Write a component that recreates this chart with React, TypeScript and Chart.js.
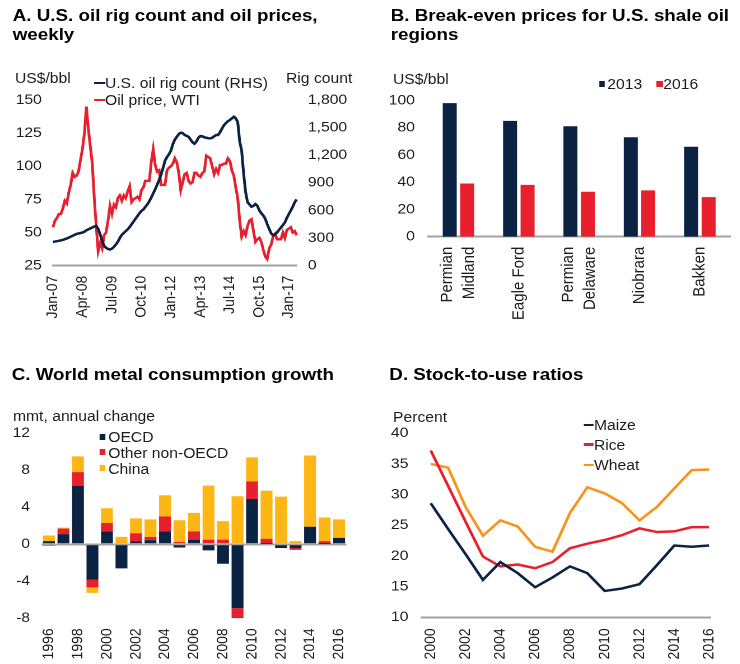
import React, { useEffect, useRef } from "react";
import { Chart, registerables } from "chart.js";

Chart.register(...registerables);

// ---------- general look ----------
const SX = 1.12; // horizontal stretch of the reference picture
const DW = 740 / SX;
const FONT = '"Liberation Sans", Arial, Helvetica, sans-serif';
const NAVY = "#0B2343";
const RED = "#E8202E";
const GOLD = "#FDB614";
const ORANGE = "#F7941D";
const AXIS = "#A3A3A3";
const TXT = "#1c1c1c";

Chart.defaults.font.family = FONT;
Chart.defaults.color = TXT;

// ---------- Panel A data (monthly, Jan-07 .. May-17) ----------
const aMonthNames = ["Jan", "Feb", "Mar", "Apr", "May", "Jun", "Jul", "Aug", "Sep", "Oct", "Nov", "Dec"];
const aYears = ["07", "08", "09", "10", "11", "12", "13", "14", "15", "16", "17"];
const aMonths: string[] = [];
aYears.forEach((y) => aMonthNames.forEach((m) => aMonths.push(`${m}-${y}`)));
aMonths.length = 125;
const aTickEvery = 15;
const aSeriesNames = ["U.S. oil rig count (RHS)", "Oil price, WTI"];
const aLeftTitle = "US$/bbl";
const aRightTitle = "Rig count";

const oilPrice = [
  54, 59, 61, 64, 64, 68, 74, 72, 80, 86, 95, 92,
  93, 96, 105, 113, 125, 145, 128, 115, 102, 76, 55, 36,
  42, 38, 48, 50, 59, 70, 64, 71, 69, 76, 78, 74,
  78, 76, 81, 85, 73, 75, 76, 77, 75, 82, 84, 89,
  89, 89, 103, 113, 101, 96, 97, 86, 86, 86, 97, 99,
  100, 102, 106, 103, 95, 82, 88, 94, 95, 89, 87, 88,
  95, 95, 93, 92, 95, 96, 108, 107, 106, 100, 94, 98,
  95, 101, 101, 102, 102, 106, 104, 97, 93, 84, 76, 59,
  47, 51, 48, 55, 59, 60, 51, 43, 45, 46, 43, 37,
  32, 30, 38, 41, 47, 49, 45, 45, 45, 50, 46, 52,
  53, 54, 50, 51, 48,
];

const rigCount = [
  258, 262, 266, 270, 275, 280, 288, 296, 305, 315, 325, 335,
  345, 350, 355, 360, 370, 385, 395, 405, 415, 425, 432, 400,
  340, 270, 215, 195, 182, 176, 185, 205, 230, 260, 300, 335,
  355, 375, 395, 420, 450, 480, 510, 540, 570, 595, 610, 640,
  665, 700, 740, 786, 830, 880, 930, 990, 1060, 1140, 1180, 1210,
  1250, 1320, 1370, 1400, 1430, 1445, 1440, 1420, 1410, 1400, 1370, 1340,
  1325, 1350, 1390, 1408, 1405, 1395, 1390, 1385, 1383, 1390, 1405, 1420,
  1420, 1450, 1490, 1526, 1550, 1570, 1582, 1600, 1618, 1600, 1560, 1350,
  1250, 1000, 800, 690, 665, 640, 650, 670, 650, 600, 570, 545,
  510, 450, 400, 352, 330, 340, 360, 390, 415, 442, 470, 520,
  560, 600, 640, 690, 720,
];

// ---------- Panel B data ----------
const bRegions: (string | string[])[] = [["Permian", "Midland"], "Eagle Ford", ["Permian", "Delaware"], "Niobrara", "Bakken"];
const bSeriesNames = ["2013", "2016"];
const b2013 = [98, 85, 81, 73, 66];
const b2016 = [39, 38, 33, 34, 29];
const bUnit = "US$/bbl";

// ---------- Panel C data ----------
const cYears = ["1996", "1997", "1998", "1999", "2000", "2001", "2002", "2003", "2004", "2005", "2006",
  "2007", "2008", "2009", "2010", "2011", "2012", "2013", "2014", "2015", "2016"];
const cSeriesNames = ["OECD", "Other non-OECD", "China"];
const cOECD = [0.35, 1.1, 6.3, -3.8, 1.4, -2.6, 0.3, 0.45, 1.4, -0.35, 0.5, -0.65, -2.1, -6.9, 4.9, 0.05, -0.4, -0.4, 1.9, 0.05, 0.7];
const cOther = [-0.15, 0.6, 1.5, -0.85, 0.9, 0, 0.9, 0.35, 1.6, 0.25, 0.9, 0.5, 0.5, -1.1, 1.9, 0.55, 0, -0.2, -0.1, 0.3, -0.1];
const cChina = [0.6, 0.1, 1.7, -0.6, 1.6, 0.8, 1.6, 1.9, 2.3, 2.35, 2.0, 5.85, 2.0, 5.2, 2.6, 5.2, 5.15, 0.35, 7.7, 2.55, 2.0];
const cUnit = "mmt, annual change";

// ---------- Panel D data ----------
const dYears = [2000, 2001, 2002, 2003, 2004, 2005, 2006, 2007, 2008, 2009, 2010, 2011, 2012, 2013, 2014, 2015, 2016];
const dTickYears = [2000, 2002, 2004, 2006, 2008, 2010, 2012, 2014, 2016];
const dSeriesNames = ["Maize", "Rice", "Wheat"];
const dMaize = [28.6, 24.4, 20.3, 16.1, 19.0, 17.2, 14.9, 16.5, 18.3, 17.2, 14.3, 14.7, 15.4, 18.5, 21.7, 21.5, 21.7];
const dRice = [37.2, 31.4, 25.6, 19.9, 18.3, 18.6, 18.0, 19.0, 21.25, 22.0, 22.6, 23.4, 24.5, 23.9, 24.0, 24.7, 24.7];
const dWheat = [35.0, 34.4, 28.0, 23.3, 25.8, 24.8, 21.5, 20.7, 27.0, 31.2, 30.2, 28.6, 25.8, 28.0, 31.0, 34.0, 34.1];
const dUnit = "Percent";

const titles = {
  a: ["A. U.S. oil rig count and oil prices,", "weekly"],
  b: ["B. Break-even prices for U.S. shale oil", "regions"],
  c: ["C. World metal consumption growth"],
  d: ["D. Stock-to-use ratios"],
};

// ---------- helpers ----------
const tickFont = { size: 14, family: FONT };
const noGrid = { display: false, drawTicks: false };
const axisBorder = { display: true, color: AXIS, width: 2 };
const common = {
  responsive: false,
  animation: false as const,
  devicePixelRatio: 2,
  events: [] as any[],
  plugins: { legend: { display: false }, tooltip: { enabled: false } },
};

function ChartBox({ left, top, width, height, config }: any) {
  const ref = useRef<HTMLCanvasElement>(null);
  useEffect(() => {
    const chart = new Chart(ref.current as HTMLCanvasElement, config);
    return () => chart.destroy();
  }, []);
  return (
    <canvas
      ref={ref}
      width={width}
      height={height}
      style={{ position: "absolute", left, top, width, height }}
    />
  );
}

function Txt({ left, top, children, bold, size }: any) {
  return (
    <div
      style={{
        position: "absolute",
        left,
        top,
        whiteSpace: "nowrap",
        fontFamily: FONT,
        fontSize: size || 14,
        lineHeight: bold ? "19.5px" : "16px",
        fontWeight: bold ? 700 : 400,
        color: bold ? "#000" : TXT,
      }}
    >
      {children}
    </div>
  );
}

function Title({ left, top, lines }: any) {
  return (
    <Txt left={left} top={top} bold size={16.8}>
      {lines.map((l: string, i: number) => (
        <div key={i}>{l}</div>
      ))}
    </Txt>
  );
}

function LineKey({ left, cy, color, label }: any) {
  return (
    <>
      <div style={{ position: "absolute", left, top: cy - 1.25, width: 9.8, height: 2.5, background: color }} />
      <Txt left={left + 9.8} top={cy - 7.7}>{label}</Txt>
    </>
  );
}

function BoxKey({ left, cy, color, label, gap }: any) {
  return (
    <>
      <div style={{ position: "absolute", left, top: cy - 3, width: 5.4, height: 6, background: color }} />
      <Txt left={left + (gap || 8)} top={cy - 7.7}>{label}</Txt>
    </>
  );
}

// ---------- configs ----------
const configA: any = {
  type: "line",
  data: {
    labels: aMonths,
    datasets: [
      { label: aSeriesNames[0], data: rigCount, yAxisID: "y1", borderColor: NAVY, borderWidth: 2.5, pointRadius: 0, tension: 0 },
      { label: aSeriesNames[1], data: oilPrice, yAxisID: "y", borderColor: RED, borderWidth: 2.5, pointRadius: 0, tension: 0 },
    ],
  },
  options: {
    ...common,
    layout: { padding: { top: 20, left: 0, right: 0, bottom: 0 } },
    scales: {
      x: {
        grid: noGrid,
        border: axisBorder,
        ticks: {
          autoSkip: false, minRotation: 90, maxRotation: 90, padding: 10, font: tickFont, color: TXT,
          callback: (_v: any, i: number) => (i % aTickEvery === 0 ? aMonths[i] : null),
        },
        afterFit: (s: any) => { s.height = 64.3; },
      },
      y: {
        position: "left", min: 25, max: 150,
        grid: noGrid, border: { display: false },
        ticks: { stepSize: 25, padding: 10, font: tickFont, color: TXT },
        afterFit: (s: any) => { s.width = 47.3; },
      },
      y1: {
        position: "right", min: 0, max: 1800,
        grid: noGrid, border: { display: false },
        ticks: { stepSize: 300, padding: 10, font: tickFont, color: TXT, callback: (v: any) => Number(v).toLocaleString("en-US") },
        afterFit: (s: any) => { s.width = 65.1; },
      },
    },
  },
};

const B_LH = 19.5;
const bLabelPlugin = {
  id: "bLabels",
  afterDraw(chart: any) {
    const sc = chart.scales.x;
    const ctx = chart.ctx;
    ctx.save();
    ctx.font = `15px ${FONT}`;
    ctx.fillStyle = TXT;
    ctx.textAlign = "right";
    ctx.textBaseline = "middle";
    bRegions.forEach((lab, i) => {
      const lines = Array.isArray(lab) ? lab : [lab];
      const x0 = sc.getPixelForTick(i);
      lines.forEach((ln, j) => {
        const x = x0 + (j - (lines.length - 1) / 2) * B_LH;
        ctx.save();
        ctx.translate(x, sc.top + 10);
        ctx.rotate(-Math.PI / 2);
        ctx.fillText(ln, 0, 0);
        ctx.restore();
      });
    });
    ctx.restore();
  },
};

const configB: any = {
  type: "bar",
  data: {
    labels: bRegions.map((l) => (Array.isArray(l) ? l.join(" ") : l)),
    datasets: [
      { label: bSeriesNames[0], data: b2013, backgroundColor: NAVY, categoryPercentage: 0.58, barPercentage: 0.8 },
      { label: bSeriesNames[1], data: b2016, backgroundColor: RED, categoryPercentage: 0.58, barPercentage: 0.8 },
    ],
  },
  plugins: [bLabelPlugin],
  options: {
    ...common,
    layout: { padding: { top: 13.3, left: 0, right: 9.2, bottom: 0 } },
    scales: {
      x: {
        grid: noGrid,
        border: axisBorder,
        ticks: { display: true, autoSkip: false, minRotation: 90, maxRotation: 90, callback: () => "" },
        afterFit: (s: any) => { s.height = 93.3; },
      },
      y: {
        min: 0, max: 100,
        grid: noGrid, border: { display: false },
        ticks: { stepSize: 20, padding: 12, font: tickFont, color: TXT },
        afterFit: (s: any) => { s.width = 52.4; },
      },
    },
  },
};

const configC: any = {
  type: "bar",
  data: {
    labels: cYears,
    datasets: [
      { label: cSeriesNames[0], data: cOECD, backgroundColor: NAVY },
      { label: cSeriesNames[1], data: cOther, backgroundColor: RED },
      { label: cSeriesNames[2], data: cChina, backgroundColor: GOLD },
    ],
  },
  options: {
    ...common,
    datasets: { bar: { categoryPercentage: 1, barPercentage: 0.82 } },
    layout: { padding: { top: 28.3, left: 0, right: 19, bottom: 0 } },
    scales: {
      x: {
        stacked: true,
        grid: noGrid,
        border: { display: false },
        ticks: {
          autoSkip: false, minRotation: 90, maxRotation: 90, padding: 10, font: tickFont, color: TXT,
          callback: (_v: any, i: number) => (i % 2 === 0 ? cYears[i] : null),
        },
        afterFit: (s: any) => { s.height = 45.7; },
      },
      y: {
        stacked: true, min: -8, max: 12,
        grid: {
          display: true, drawTicks: false, lineWidth: 2,
          color: (c: any) => (c.tick && c.tick.value === 0 ? AXIS : "rgba(0,0,0,0)"),
        },
        border: { display: false },
        ticks: { stepSize: 4, padding: 10.4, font: tickFont, color: TXT },
        afterFit: (s: any) => { s.width = 37.2; },
      },
    },
  },
};

const configD: any = {
  type: "line",
  data: {
    datasets: [
      { label: dSeriesNames[0], data: dYears.map((y, i) => ({ x: y, y: dMaize[i] })), borderColor: NAVY, borderWidth: 2.5, pointRadius: 0, tension: 0 },
      { label: dSeriesNames[1], data: dYears.map((y, i) => ({ x: y, y: dRice[i] })), borderColor: RED, borderWidth: 2.5, pointRadius: 0, tension: 0 },
      { label: dSeriesNames[2], data: dYears.map((y, i) => ({ x: y, y: dWheat[i] })), borderColor: ORANGE, borderWidth: 2.5, pointRadius: 0, tension: 0 },
    ],
  },
  options: {
    ...common,
    layout: { padding: { top: 28.3, left: 0, right: 19.7, bottom: 0 } },
    scales: {
      x: {
        type: "linear", min: 1999.48, max: 2016.09,
        grid: noGrid,
        border: axisBorder,
        afterBuildTicks: (s: any) => { s.ticks = dTickYears.map((v) => ({ value: v })); },
        ticks: {
          autoSkip: false, minRotation: 90, maxRotation: 90, padding: 11, font: tickFont, color: TXT,
          callback: (v: any) => String(v),
        },
        afterFit: (s: any) => { s.height = 46.7; },
      },
      y: {
        min: 10, max: 40,
        grid: noGrid, border: { display: false },
        ticks: { stepSize: 5, padding: 11.9, font: tickFont, color: TXT },
        afterFit: (s: any) => { s.width = 46.5; },
      },
    },
  },
};

export default function App() {
  return (
    <div style={{ position: "absolute", left: 0, top: 0, width: 740, height: 664, overflow: "hidden", background: "#fff" }}>
      <div
        style={{
          position: "absolute", left: 0, top: 0, width: DW, height: 664,
          transform: `scaleX(${SX})`, transformOrigin: "0 0",
        }}
      >
        {/* Panel A */}
        <Title left={11.3} top={5.9} lines={titles.a} />
        <ChartBox left={0} top={80} width={330} height={250} config={configA} />
        <Txt left={13.4} top={70.3}>{aLeftTitle}</Txt>
        <Txt left={255.4} top={70.3}>{aRightTitle}</Txt>
        <LineKey left={83.9} cy={83} color={NAVY} label={aSeriesNames[0]} />
        <LineKey left={83.9} cy={100} color={RED} label={aSeriesNames[1]} />

        {/* Panel B */}
        <Title left={348.8} top={5.9} lines={titles.b} />
        <ChartBox left={330} top={80} width={331} height={250} config={configB} />
        <Txt left={350.9} top={70.6}>{bUnit}</Txt>
        <BoxKey left={535} cy={84} color={NAVY} label={bSeriesNames[0]} gap={7.2} />
        <BoxKey left={586.3} cy={84} color={RED} label={bSeriesNames[1]} gap={5.9} />

        {/* Panel C */}
        <Title left={10.4} top={365.2} lines={titles.c} />
        <ChartBox left={0} top={405} width={330} height={259} config={configC} />
        <Txt left={11.6} top={408.3}>{cUnit}</Txt>
        <BoxKey left={88.6} cy={436.7} color={NAVY} label={cSeriesNames[0]} gap={8} />
        <BoxKey left={88.6} cy={452.3} color={RED} label={cSeriesNames[1]} gap={8} />
        <BoxKey left={88.6} cy={468.3} color={GOLD} label={cSeriesNames[2]} gap={8} />

        {/* Panel D */}
        <Title left={347.6} top={365.2} lines={titles.d} />
        <ChartBox left={330} top={405} width={331} height={259} config={configD} />
        <Txt left={350.9} top={409}>{dUnit}</Txt>
        <LineKey left={520.5} cy={425} color={NAVY} label={dSeriesNames[0]} />
        <LineKey left={520.5} cy={444.5} color={RED} label={dSeriesNames[1]} />
        <LineKey left={520.5} cy={465} color={ORANGE} label={dSeriesNames[2]} />
      </div>
    </div>
  );
}
